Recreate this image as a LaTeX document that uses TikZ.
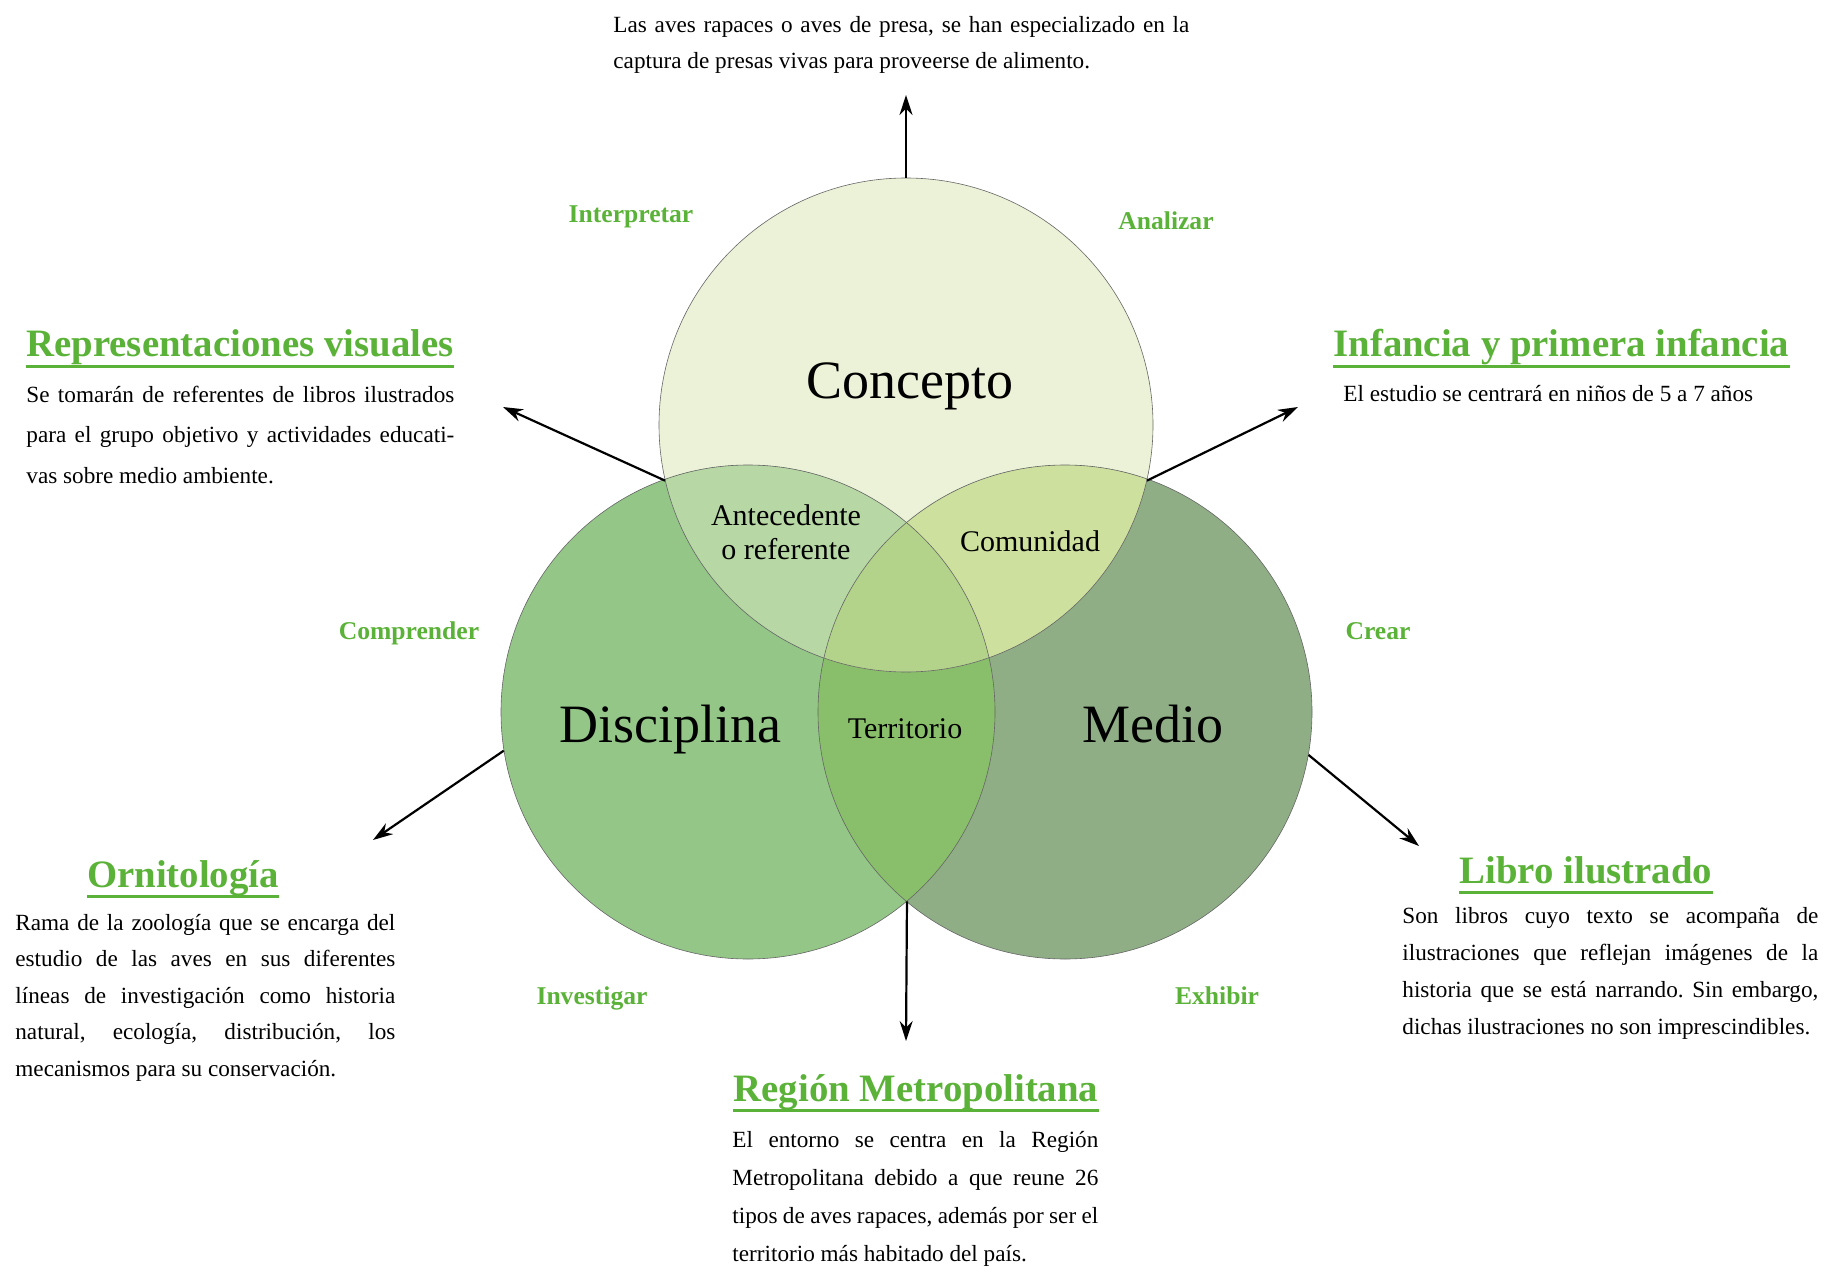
\documentclass[tikz,border=0pt]{standalone}
\usepackage{fontspec}
\setmainfont{Liberation Serif}
\usepackage{tikz}
\usetikzlibrary{arrows.meta}

\definecolor{verde}{RGB}{91,178,56}
\definecolor{cfill}{HTML}{EBF2D7}
\definecolor{dfill}{HTML}{93C687}
\definecolor{mfill}{HTML}{8FAE86}
\definecolor{cdfill}{HTML}{B7D8A5}
\definecolor{cmfill}{HTML}{CDE09E}
\definecolor{dmfill}{HTML}{89BF6A}
\definecolor{cdmfill}{HTML}{B3D38A}

\hyphenpenalty=10000
\tolerance=10000
\frenchspacing

\begin{document}
\begin{tikzpicture}[x=0.5pt, y=-0.5pt,
	ring/.style={circle, draw=black!60, line width=0.3pt, minimum size=247pt, inner sep=0pt},
	big/.style={font=\fontsize{27}{30}\selectfont, anchor=base},
	small/.style={font=\fontsize{15}{17}\selectfont, anchor=base, align=center},
	verb/.style={font=\fontsize{12.8}{15}\selectfont\bfseries, text=verde, anchor=base},
	titulo/.style={font=\fontsize{19.4}{22}\selectfont\bfseries, text=verde, anchor=base, inner sep=0pt, text depth=4.5pt},
	cuerpo/.style={font=\fontsize{11.6}{18.5}\selectfont, anchor=base west, inner sep=0pt, align=justify},
	flecha/.style={line width=1.1pt, -{Stealth[length=10pt, width=6.5pt]}}]
	\useasboundingbox (0,0) rectangle (1824,1267);
	% the three sets
	\coordinate (cC) at (906,425);
	\coordinate (cD) at (748,712);
	\coordinate (cM) at (1065,712);
	\fill[cfill] (cC) circle[radius=247];
	\fill[dfill] (cD) circle[radius=247];
	\fill[mfill] (cM) circle[radius=247];
	\begin{scope}
		\clip (cD) circle[radius=247];
		\fill[dmfill] (cM) circle[radius=247];
	\end{scope}
	\begin{scope}
		\clip (cC) circle[radius=247];
		\fill[cdfill] (cD) circle[radius=247];
		\fill[cmfill] (cM) circle[radius=247];
		\clip (cD) circle[radius=247];
		\fill[cdmfill] (cM) circle[radius=247];
	\end{scope}
	\node[ring] (C) at (cC) {};
	\node[ring] (D) at (cD) {};
	\node[ring] (M) at (cM) {};
	\node[big] (lC) at (910,398) {Concepto};
	\node[big] (lD) at (670,742) {Disciplina};
	\node[big] (lM) at (1153,742) {Medio};
	\node[small] (lT) at (905,738) {Territorio};
	\node[small] (lCM) at (1030,551) {Comunidad};
	\node[small] (lCD) at (786,559) {Antecedente\\o referente};
	% verbs
	\node[verb] (vI) at (631,223) {Interpretar};
	\node[verb] (vA) at (1166,230) {Analizar};
	\node[verb] (vCo) at (409,639) {Comprender};
	\node[verb] (vCr) at (1378,639) {Crear};
	\node[verb] (vIn) at (592,1004) {Investigar};
	\node[verb] (vE) at (1217,1004) {Exhibir};
	% arrows
	\coordinate (tTop) at (906,95);
	\coordinate (tRep) at (503,407);
	\coordinate (tInf) at (1298,407);
	\coordinate (tOrn) at (373,840);
	\coordinate (tLib) at (1419,846);
	\coordinate (tReg) at (906,1041);
	\draw[flecha] (C.90) -- (tTop);
	\draw[flecha] (C.193) -- (tRep);
	\draw[flecha] (C.347) -- (tInf);
	\draw[flecha] (D.189) -- (tOrn);
	\draw[flecha] (M.350) -- (tLib);
	\draw[flecha] (D.310) -- (tReg);
	% texts
	\node[cuerpo, text width=288pt, font=\fontsize{11.6}{18}\selectfont] (bTop) at (613,33) {Las aves rapaces o aves de presa, se han especializado en la\linebreak captura de presas vivas para proveerse de alimento.};
	\node[titulo, anchor=base west] (tRV) at (26,357) {Representaciones visuales};
	\draw[verde, line width=1.2pt] (tRV.south west) -- (tRV.south east);
	\node[cuerpo, text width=214pt, font=\fontsize{11.6}{20.4}\selectfont] (bRV) at (26,402) {Se tomarán de referentes de libros ilustrados\linebreak para el grupo objetivo y actividades educati-\linebreak vas sobre medio ambiente.};
	\node[titulo, anchor=base west] (tIP) at (1333,357) {Infancia y primera infancia};
	\draw[verde, line width=1.2pt] (tIP.south west) -- (tIP.south east);
	\node[cuerpo, text width=230pt] (bIP) at (1343,401) {El estudio se centrará en niños de 5 a 7 años};
	\node[titulo] (tO) at (183,887) {Ornitología};
	\draw[verde, line width=1.2pt] (tO.south west) -- (tO.south east);
	\node[cuerpo, text width=190pt, font=\fontsize{11.6}{18.3}\selectfont] (bO) at (15,930) {Rama de la zoología que se encarga del\linebreak estudio de las aves en sus diferentes\linebreak líneas de investigación como historia\linebreak natural, ecología, distribución, los\linebreak mecanismos para su conservación.};
	\node[titulo] (tL) at (1586,883) {Libro ilustrado};
	\draw[verde, line width=1.2pt] (tL.south west) -- (tL.south east);
	\node[cuerpo, text width=208pt] (bL) at (1402,923) {Son libros cuyo texto se acompaña de\linebreak ilustraciones que reflejan imágenes de la\linebreak historia que se está narrando. Sin embargo,\linebreak dichas ilustraciones no son imprescindibles.};
	\node[titulo] (tR) at (916,1101) {Región Metropolitana};
	\draw[verde, line width=1.2pt] (tR.south west) -- (tR.south east);
	\node[cuerpo, text width=183pt, font=\fontsize{11.6}{19}\selectfont] (bR) at (732,1147) {El entorno se centra en la Región\linebreak Metropolitana debido a que reune 26\linebreak tipos de aves rapaces, además por ser el\linebreak territorio más habitado del país.};
\end{tikzpicture}
\end{document}
